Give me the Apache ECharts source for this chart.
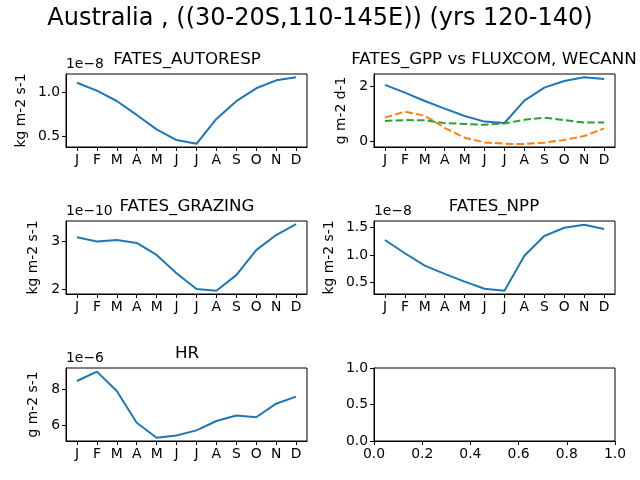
<!DOCTYPE html>
<html lang="en">
<head>
    <meta charset="UTF-8">
    <title>Australia seasonal cycle</title>
    <script src="https://cdn.jsdelivr.net/npm/echarts@6/dist/echarts.min.js"></script>
    <style>
        html, body { margin: 0; padding: 0; background: #ffffff; }
        #chart { width: 640px; height: 480px; }
    </style>
</head>
<body>
    <div id="chart"></div>
    <script>
        // month labels on the x axis
        var months = ['J', 'F', 'M', 'A', 'M', 'J', 'J', 'A', 'S', 'O', 'N', 'D'];

        // values, in units of the axis offset (1e-8 etc.)
        var autoresp = [1.108, 1.018, 0.902, 0.745, 0.583, 0.462, 0.42, 0.70, 0.90, 1.045, 1.135, 1.169];
        var gppFates = [2.04, 1.76, 1.455, 1.175, 0.91, 0.705, 0.655, 1.465, 1.94, 2.18, 2.32, 2.25];
        var gppFluxcom = [0.85, 1.07, 0.92, 0.48, 0.12, -0.05, -0.1, -0.11, -0.06, 0.04, 0.18, 0.46];
        var gppWecann = [0.73, 0.76, 0.75, 0.65, 0.62, 0.59, 0.64, 0.77, 0.85, 0.76, 0.67, 0.67];
        var grazing = [3.077, 2.99, 3.02, 2.96, 2.71, 2.33, 2.0, 1.965, 2.29, 2.81, 3.125, 3.35];
        var npp = [1.276, 1.036, 0.81, 0.66, 0.52, 0.39, 0.355, 0.99, 1.35, 1.5, 1.555, 1.476];
        var hr = [8.46, 8.98, 7.9, 6.14, 5.31, 5.44, 5.72, 6.24, 6.54, 6.45, 7.2, 7.59];

        // tick labels
        var ticksAutoresp = [0.5, 1.0];
        var ticksGpp = [0, 2];
        var ticksGrazing = [2, 3];
        var ticksNpp = [0.5, 1.0, 1.5];
        var ticksHr = [6, 8];
        var ticksEmptyX = [0, 0.2, 0.4, 0.6, 0.8, 1.0];
        var ticksEmptyY = [0, 0.5, 1.0];

        var blue = '#1f77b4', orange = '#ff7f0e', green = '#2ca02c';
        var font = 'DejaVu Sans';
        var monthIdx = months.map(function (m, i) { return i; });

        function pairs(arr) {
            return arr.map(function (v, i) { return [i, v]; });
        }

        var grids = [
            { left: 66, top: 74, width: 241, height: 73 },
            { left: 374, top: 74, width: 241, height: 73 },
            { left: 66, top: 221, width: 241, height: 73 },
            { left: 374, top: 221, width: 241, height: 73 },
            { left: 66, top: 368, width: 241, height: 73 },
            { left: 374, top: 368, width: 241, height: 73 }
        ].map(function (g) {
            return Object.assign({ show: true, borderColor: '#000', borderWidth: 1, containLabel: false }, g);
        });

        var axisLine = { show: true, onZero: false, lineStyle: { color: '#000', width: 1 } };

        function xAxisFor(idx, min, max, ticks, fmt) {
            return {
                type: 'value', gridIndex: idx, min: min, max: max,
                splitLine: { show: false },
                axisLine: axisLine,
                axisTick: { show: true, length: 4, inside: false, customValues: ticks, lineStyle: { color: '#000' } },
                axisLabel: {
                    customValues: ticks, color: '#000', fontFamily: font, fontSize: 13.9, margin: 6,
                    formatter: fmt, showMinLabel: true, showMaxLabel: true
                }
            };
        }

        function yAxisFor(idx, min, max, ticks, fmt, name, gap) {
            return {
                type: 'value', gridIndex: idx, min: min, max: max,
                name: name, nameLocation: 'middle', nameRotate: 90, nameGap: gap,
                nameTextStyle: { color: '#000', fontFamily: font, fontSize: 13.9 },
                splitLine: { show: false },
                axisLine: axisLine,
                axisTick: { show: true, length: 4, inside: false, customValues: ticks, lineStyle: { color: '#000' } },
                axisLabel: {
                    customValues: ticks, color: '#000', fontFamily: font, fontSize: 13.9, margin: 6,
                    formatter: fmt, showMinLabel: true, showMaxLabel: true
                }
            };
        }

        var monthFmt = function (v) { return months[Math.round(v)]; };
        var fix1 = function (v) { return v.toFixed(1); };
        var fix0 = function (v) { return v.toFixed(0); };

        function line(idx, data, color, dashed) {
            return {
                type: 'line', xAxisIndex: idx, yAxisIndex: idx,
                data: pairs(data), showSymbol: false, symbol: 'none',
                lineStyle: { color: color, width: 2, type: dashed ? [7.5, 3.2] : 'solid' },
                animation: false, silent: true
            };
        }

        function title(text, x, y, size) {
            return { text: text, left: x, top: y, textAlign: 'center', padding: 0,
                textStyle: { fontFamily: font, fontSize: size, fontWeight: 'normal', color: '#000' } };
        }

        function offsetText(text, x, y) {
            return { type: 'text', left: x, top: y,
                style: { text: text, fontFamily: font, fontSize: 13.9, fill: '#000' } };
        }

        var chart = echarts.init(document.getElementById('chart'), null, { renderer: 'canvas' });

        var option = {
            backgroundColor: '#ffffff',
            animation: false,
            title: [
                title('Australia , ((30-20S,110-145E)) (yrs 120-140)', 320, 7, 24),
                title('FATES_AUTORESP', 187, 51, 16.7),
                title('FATES_GPP vs FLUXCOM, WECANN', 494, 51, 16.7),
                title('FATES_GRAZING', 187, 198, 16.7),
                title('FATES_NPP', 494, 198, 16.7),
                title('HR', 187, 345, 16.7)
            ],
            grid: grids,
            xAxis: [
                xAxisFor(0, -0.55, 11.55, monthIdx, monthFmt),
                xAxisFor(1, -0.55, 11.55, monthIdx, monthFmt),
                xAxisFor(2, -0.55, 11.55, monthIdx, monthFmt),
                xAxisFor(3, -0.55, 11.55, monthIdx, monthFmt),
                xAxisFor(4, -0.55, 11.55, monthIdx, monthFmt),
                xAxisFor(5, 0, 1, ticksEmptyX, fix1)
            ],
            yAxis: [
                yAxisFor(0, 0.384, 1.206, ticksAutoresp, fix1, 'kg m-2 s-1', 38),
                yAxisFor(1, -0.218, 2.436, ticksGpp, fix0, 'g m-2 d-1', 26),
                yAxisFor(2, 1.896, 3.417, ticksGrazing, fix0, 'kg m-2 s-1', 26),
                yAxisFor(3, 0.295, 1.622, ticksNpp, fix1, 'kg m-2 s-1', 38),
                yAxisFor(4, 5.13, 9.18, ticksHr, fix0, 'g m-2 s-1', 26),
                yAxisFor(5, 0, 1, ticksEmptyY, fix1, '', 0)
            ],
            series: [
                line(0, autoresp, blue, false),
                line(1, gppFates, blue, false),
                line(1, gppFluxcom, orange, true),
                line(1, gppWecann, green, true),
                line(2, grazing, blue, false),
                line(3, npp, blue, false),
                line(4, hr, blue, false)
            ],
            graphic: [
                offsetText('1e\u22128', 66, 57),
                offsetText('1e\u221210', 66, 204),
                offsetText('1e\u22128', 374, 204),
                offsetText('1e\u22126', 66, 351)
            ]
        };

        chart.setOption(option);
    </script>
</body>
</html>
